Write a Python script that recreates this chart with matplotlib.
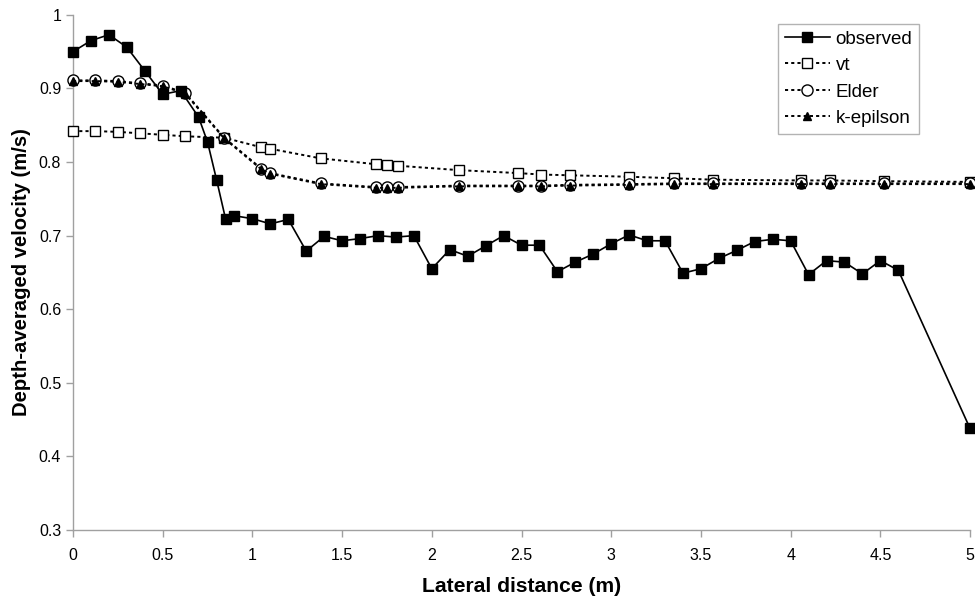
import matplotlib
matplotlib.use("Agg")
import matplotlib.pyplot as plt

plt.rcParams['font.family'] = ['Liberation Sans', 'DejaVu Sans']

# observed
obs_x = [0, 0.1, 0.2, 0.3, 0.4, 0.5, 0.6, 0.7, 0.75, 0.8, 0.85, 0.9, 1.0, 1.1, 1.2, 1.3,
         1.4, 1.5, 1.6, 1.7, 1.8, 1.9, 2.0, 2.1, 2.2, 2.3, 2.4, 2.5, 2.6, 2.7, 2.8, 2.9,
         3.0, 3.1, 3.2, 3.3, 3.4, 3.5, 3.6, 3.7, 3.8, 3.9, 4.0, 4.1, 4.2, 4.3, 4.4, 4.5,
         4.6, 5.0]
obs_y = [0.950, 0.965, 0.973, 0.956, 0.924, 0.892, 0.897, 0.861, 0.827, 0.776, 0.723,
         0.727, 0.723, 0.716, 0.722, 0.679, 0.699, 0.693, 0.696, 0.700, 0.698, 0.700,
         0.655, 0.681, 0.672, 0.686, 0.700, 0.687, 0.687, 0.651, 0.664, 0.675, 0.689,
         0.701, 0.693, 0.693, 0.649, 0.655, 0.669, 0.680, 0.692, 0.695, 0.693, 0.647,
         0.666, 0.664, 0.648, 0.666, 0.653, 0.438]

# model grid
mod_x = [0, 0.125, 0.25, 0.375, 0.5, 0.625, 0.843, 1.05, 1.1, 1.38, 1.69, 1.75, 1.81,
         2.15, 2.48, 2.61, 2.77, 3.10, 3.35, 3.57, 4.06, 4.22, 4.52, 5.0]
vt_y = [0.842, 0.842, 0.841, 0.839, 0.837, 0.835, 0.833, 0.820, 0.818, 0.805, 0.797,
        0.796, 0.795, 0.789, 0.785, 0.783, 0.782, 0.780, 0.778, 0.776, 0.775, 0.775,
        0.774, 0.773]
elder_y = [0.911, 0.911, 0.910, 0.907, 0.904, 0.894, 0.833, 0.791, 0.785, 0.771, 0.766,
           0.766, 0.766, 0.768, 0.768, 0.768, 0.769, 0.770, 0.771, 0.771, 0.771, 0.771,
           0.771, 0.771]
keps_y = [0.910, 0.910, 0.909, 0.906, 0.903, 0.893, 0.832, 0.790, 0.784, 0.770, 0.765,
          0.765, 0.765, 0.767, 0.767, 0.767, 0.768, 0.769, 0.770, 0.770, 0.770, 0.770,
          0.770, 0.770]

x_ticks = [0, 0.5, 1, 1.5, 2, 2.5, 3, 3.5, 4, 4.5, 5]
x_tick_labels = ["0", "0.5", "1", "1.5", "2", "2.5", "3", "3.5", "4", "4.5", "5"]
y_ticks = [0.3, 0.4, 0.5, 0.6, 0.7, 0.8, 0.9, 1.0]
y_tick_labels = ["0.3", "0.4", "0.5", "0.6", "0.7", "0.8", "0.9", "1"]

fig = plt.figure(figsize=(9.75, 5.99), dpi=100)
ax = fig.add_axes([0.0749, 0.1152, 0.92, 0.86])

dot = (0, (1.6, 1.6))
ax.plot(obs_x, obs_y, color='black', lw=1.2, marker='s', ms=6.5, mfc='black',
        mec='black', label='observed', zorder=5)
ax.plot(mod_x, vt_y, color='black', lw=1.4, ls=dot, marker='s', ms=7, mfc='white',
        mec='black', mew=1.0, label='vt', zorder=3)
ax.plot(mod_x, elder_y, color='black', lw=1.4, ls=dot, marker='o', ms=8, mfc='white',
        mec='black', mew=1.0, label='Elder', zorder=3)
ax.plot(mod_x, keps_y, color='black', lw=1.4, ls=dot, marker='^', ms=5.5, mfc='black',
        mec='black', label='k-epilson', zorder=4)

ax.set_xlim(0, 5)
ax.set_ylim(0.3, 1.0)
ax.set_xticks(x_ticks)
ax.set_xticklabels(x_tick_labels)
ax.set_yticks(y_ticks)
ax.set_yticklabels(y_tick_labels)
for s in ['top', 'right']:
    ax.spines[s].set_visible(False)
for s in ['left', 'bottom']:
    ax.spines[s].set_color('#a0a0a0')
    ax.spines[s].set_linewidth(1.0)
ax.spines['left'].set_zorder(0)
ax.tick_params(axis='both', direction='out', length=5, width=1.0, color='#a0a0a0',
               labelsize=11.5, labelcolor='black')
ax.tick_params(axis='x', pad=8)
for ln in ax.lines:
    ln.set_clip_on(False)

ax.set_xlabel('Lateral distance (m)', fontsize=15.2, fontweight='bold', labelpad=10)
ax.set_ylabel('Depth-averaged velocity (m/s)', fontsize=14.6, fontweight='bold', labelpad=6)

leg = ax.legend(loc='upper right', bbox_to_anchor=(0.943, 0.9825), fontsize=13.5,
                frameon=True, fancybox=False, edgecolor='#a0a0a0', handlelength=2.4,
                handletextpad=0.3, borderpad=0.35, labelspacing=0.5, borderaxespad=0)
leg.get_frame().set_linewidth(1.0)

fig.savefig('out.png', dpi=100)
